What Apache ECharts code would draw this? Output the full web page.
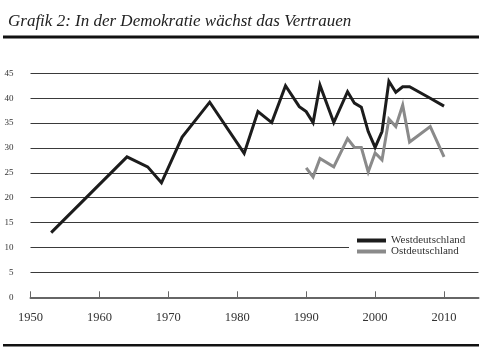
<!DOCTYPE html>
<html><head><meta charset="utf-8">
<script src="https://cdn.jsdelivr.net/npm/echarts@6/dist/echarts.min.js"></script>
<style>html,body{margin:0;padding:0;background:#fff}#c{width:490px;height:355px}</style>
</head><body><div id="c"></div>
<script>
const titleText = 'Grafik 2: In der Demokratie wächst das Vertrauen';
const seriesNames = ['Westdeutschland', 'Ostdeutschland'];
const westYears  = [1953,1964,1967,1969,1972,1976,1981,1983,1985,1987,1989,1990,1991,1992,1994,1996,1997,1998,1999,2000,2001,2002,2003,2004,2005,2008,2010];
const westValues = [13,28.2,26.2,23,32.2,39.2,28.9,37.3,35.1,42.5,38.3,37.3,35.1,42.6,35.1,41.3,39,38.2,33.3,30.1,33.3,43.4,41.2,42.3,42.3,40,38.4];
const eastYears  = [1990,1991,1992,1994,1996,1997,1998,1999,2000,2001,2002,2003,2004,2005,2008,2010];
const eastValues = [26,24.2,27.9,26.2,31.9,30.1,30.1,25.2,29,27.6,35.8,34.3,38.6,31.2,34.3,28.2];
const xTicks = [1950,1960,1970,1980,1990,2000,2010];
const yTicks = [0,5,10,15,20,25,30,35,40,45];

const zip = (a, b) => a.map((v, i) => [v, b[i]]);
const chart = echarts.init(document.getElementById('c'), null, {renderer: 'canvas'});
chart.setOption({
  animation: false,
  title: {
    text: titleText, left: 3, top: 8,
    textStyle: {fontFamily: 'Liberation Serif', fontStyle: 'italic', fontWeight: 'normal', fontSize: 17, color: '#222'}
  },
  graphic: [
    {type: 'rect', shape: {x: 3, y: 35.5, width: 476, height: 3}, style: {fill: '#111'}},
    {type: 'rect', shape: {x: 3, y: 344, width: 476, height: 2.5}, style: {fill: '#111'}}
  ],
  legend: {
    orient: 'vertical', left: 349, top: 233,
    padding: [2, 30, 2, 8], itemGap: 0,
    backgroundColor: '#fff',
    icon: 'rect', itemWidth: 29, itemHeight: 4, itemStyle: {borderWidth: 0},
    textStyle: {fontFamily: 'Liberation Serif', fontSize: 11, color: '#333', padding: [1, 0, 0, 0]},
    data: seriesNames
  },
  grid: {left: 30.5, right: 11.5, top: 73.3, bottom: 57.7, containLabel: false},
  xAxis: {
    type: 'value', min: 1950, max: 2015, interval: 10,
    axisLine: {show: true, lineStyle: {color: '#666', width: 2}},
    axisTick: {show: true, inside: true, length: 6, customValues: xTicks, lineStyle: {color: '#666', width: 1}},
    axisLabel: {customValues: xTicks, formatter: v => String(v), margin: 14, fontFamily: 'Liberation Serif', fontSize: 12.5, color: '#333'},
    splitLine: {show: false}
  },
  yAxis: {
    type: 'value', min: 0, max: 45, interval: 5,
    axisLine: {show: false}, axisTick: {show: false},
    axisLabel: {margin: 17, formatter: v => String(v), fontFamily: 'Liberation Serif', fontSize: 9, color: '#333'},
    splitLine: {show: true, lineStyle: {color: '#3a3a3a', width: 1}}
  },
  series: [
    {name: seriesNames[1], type: 'line', data: zip(eastYears, eastValues), showSymbol: false, symbol: 'none',
     lineStyle: {color: '#8a8a8a', width: 3, join: 'miter'}, itemStyle: {color: '#8a8a8a'}, z: 2},
    {name: seriesNames[0], type: 'line', data: zip(westYears, westValues), showSymbol: false, symbol: 'none',
     lineStyle: {color: '#1c1c1c', width: 3, join: 'miter'}, itemStyle: {color: '#1c1c1c'}, z: 3}
  ]
});
</script></body></html>
